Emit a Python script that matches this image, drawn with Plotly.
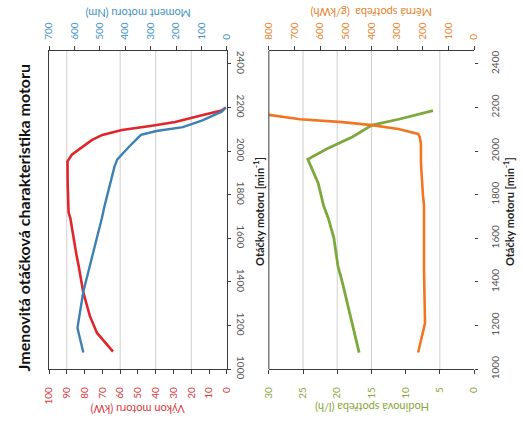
import plotly.graph_objects as go

# ---------------- data ----------------
# Left panel: rated power and torque vs engine speed
rpm_power = [1080, 1166, 1243, 1355, 1481, 1526, 1692, 1719, 1850, 1953, 1985, 2020, 2050, 2074, 2097, 2115, 2133, 2164, 2186, 2200]
power_kw = [64, 73, 77, 80.8, 83.5, 84.6, 88, 89, 89.5, 89.6, 87, 81, 76, 70, 59, 43, 29, 14, 3, 0.5]

rpm_torque = [1076, 1189, 1355, 1481, 1557, 1692, 1750, 1930, 1962, 2020, 2074, 2092, 2110, 2141, 2182, 2200]
torque_nm = [565, 588, 565, 538, 519, 492, 481, 442, 431, 385, 338, 277, 173, 96, 19, 5]

# Right panel: hourly consumption and specific consumption vs engine speed
rpm_hourly = [1076, 1241, 1391, 1473, 1602, 1691, 1750, 1854, 1944, 1962, 2011, 2065, 2119, 2146, 2186]
hourly_lh = [16.8, 18.0, 19.2, 19.9, 20.5, 21.3, 22.0, 22.8, 24.0, 24.3, 21.5, 17.8, 14.9, 11.0, 6.0]

rpm_specific = [1076, 1211, 1449, 1750, 1795, 1944, 2034, 2065, 2079, 2101, 2119, 2133, 2146, 2166]
specific_gkwh = [218, 191, 195, 195, 199, 207, 207, 212, 218, 295, 398, 513, 678, 800]

rpm_ticks = [1000, 1200, 1400, 1600, 1800, 2000, 2200, 2400]
kw_ticks = [0, 10, 20, 30, 40, 50, 60, 70, 80, 90, 100]
nm_ticks = [0, 100, 200, 300, 400, 500, 600, 700]
lh_ticks = [0, 5, 10, 15, 20, 25, 30]
gkwh_ticks = [0, 100, 200, 300, 400, 500, 600, 700, 800]
grid_kw = [20, 40, 60, 90]
grid_lh = [5, 15, 20, 25]

title_text = "Jmenovitá otáčková charakteristika motoru"
rpm_title = "Otáčky motoru [min<sup>-1</sup>]"
kw_title = "Výkon motoru (kW)"
nm_title = "Moment motoru (Nm)"
lh_title = "Hodinová spotřeba (l/h)"
gkwh_title = "Měrná spotřeba  (g/kWh)"

# ---------------- style ----------------
W, H = 523, 427
FONT = "Lato"
RED, BLUE, GREEN, ORANGE = "#e2252b", "#3d80b2", "#7ca83c", "#f07622"
RED_T, BLUE_T, GREEN_T, ORANGE_T = "#d83a40", "#3f92bf", "#8aa53a", "#e5832a"
AX = "#3a3a3a"

def px(x):
    return x / W

def py(y):
    return 1 - y / H

fig = go.Figure()
fig.add_trace(go.Scatter(x=power_kw, y=rpm_power, xaxis="x", yaxis="y", mode="lines",
                         line=dict(color=RED, width=2.6), showlegend=False))
fig.add_trace(go.Scatter(x=torque_nm, y=rpm_torque, xaxis="x2", yaxis="y", mode="lines",
                         line=dict(color=BLUE, width=2.4), showlegend=False))
fig.add_trace(go.Scatter(x=hourly_lh, y=rpm_hourly, xaxis="x3", yaxis="y2", mode="lines",
                         line=dict(color=GREEN, width=2.8), showlegend=False))
fig.add_trace(go.Scatter(x=specific_gkwh, y=rpm_specific, xaxis="x4", yaxis="y2", mode="lines",
                         line=dict(color=ORANGE, width=2.6), showlegend=False))

ydom = [py(378), py(52)]
left_dom = [px(43), px(225)]
right_dom = [px(268), px(478)]

def val_axis(rng, ticks, color, side, standoff, **kw):
    d = dict(range=rng, tickmode="array", tickvals=ticks, tickangle=-90,
             ticks="outside", ticklen=4, tickcolor=AX, showline=True, linecolor=AX,
             linewidth=1, showgrid=False, zeroline=False, side=side,
             ticklabelstandoff=standoff,
             tickfont=dict(family=FONT, size=10, color=color), fixedrange=True)
    d.update(kw)
    return d

def rpm_axis(anchor, angle, showline, standoff):
    return dict(range=[1000, 2460], domain=ydom, anchor=anchor, side="right",
                tickmode="array", tickvals=rpm_ticks, tickangle=angle,
                ticks="outside", ticklen=3, tickcolor=AX, showline=showline,
                mirror=showline, linecolor=AX, linewidth=1, showgrid=False,
                zeroline=False, ticklabelstandoff=standoff,
                tickfont=dict(family=FONT, size=10, color="#555"))

shapes = []
for v in grid_kw:
    shapes.append(dict(type="line", xref="x", yref="y domain", x0=v, x1=v, y0=0, y1=1,
                       line=dict(color="#cfcfcf", width=1), layer="below"))
for v in grid_lh:
    shapes.append(dict(type="line", xref="x3", yref="y2 domain", x0=v, x1=v, y0=0, y1=1,
                       line=dict(color="#cfcfcf", width=1), layer="below"))
shapes.append(dict(type="line", xref="x3 domain", yref="y2 domain", x0=0, x1=0, y0=0, y1=1,
                   line=dict(color=AX, width=1)))

ann = []
ann.append(dict(text="<b>" + title_text + "</b>", x=px(17), y=py(223), textangle=-90,
                font=dict(family=FONT, size=16, color="#111")))
ann.append(dict(text=kw_title, x=px(134), y=py(420), textangle=180,
                font=dict(family=FONT, size=11, color=RED_T)))
ann.append(dict(text=nm_title, x=px(134), y=py(14), textangle=180,
                font=dict(family=FONT, size=11, color=BLUE_T)))
ann.append(dict(text=lh_title, x=px(373), y=py(418), textangle=180,
                font=dict(family=FONT, size=11, color=GREEN_T)))
ann.append(dict(text=gkwh_title, x=px(373), y=py(13), textangle=180,
                font=dict(family=FONT, size=11, color=ORANGE_T)))
ann.append(dict(text="<b>" + rpm_title + "</b>", x=px(258), y=py(217), textangle=-90,
                font=dict(family=FONT, size=11, color="#222")))
ann.append(dict(text="<b>" + rpm_title + "</b>", x=px(514), y=py(217), textangle=-90,
                font=dict(family=FONT, size=11, color="#222")))
for a in ann:
    a.update(xref="paper", yref="paper", showarrow=False, xanchor="center", yanchor="middle")

fig.update_layout(
    width=W, height=H, margin=dict(l=0, r=0, t=0, b=0),
    paper_bgcolor="white", plot_bgcolor="white",
    xaxis=val_axis([100, 0], kw_ticks, RED_T, "bottom", 9, domain=left_dom, anchor="y"),
    xaxis2=val_axis([700, 0], nm_ticks, BLUE_T, "top", 4, overlaying="x", anchor="y"),
    xaxis3=val_axis([30, 0], lh_ticks, GREEN_T, "bottom", 9, domain=right_dom, anchor="y2"),
    xaxis4=val_axis([800, 0], gkwh_ticks, ORANGE_T, "top", 4, overlaying="x3", anchor="y2"),
    yaxis=rpm_axis("x", 90, True, 2),
    yaxis2=rpm_axis("x3", -90, False, 9),
    shapes=shapes, annotations=ann,
)

fig.write_html("out.html")
